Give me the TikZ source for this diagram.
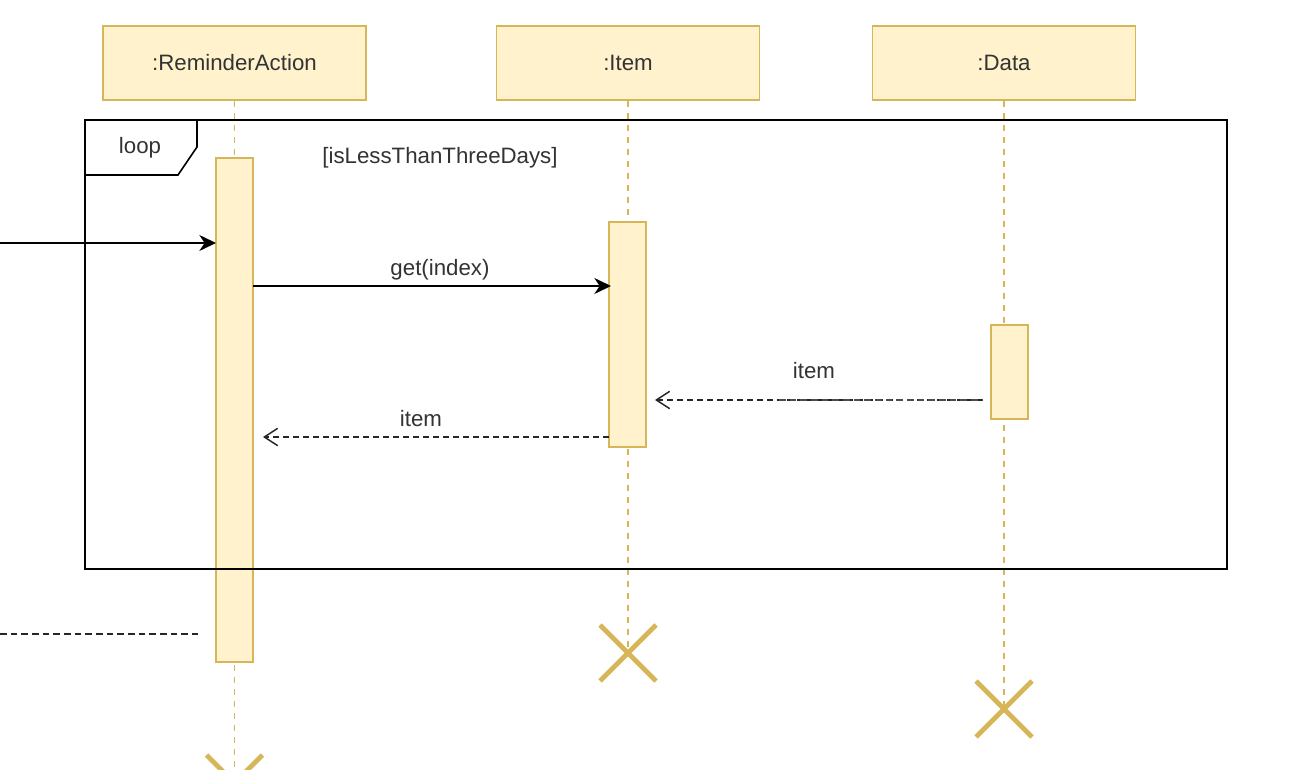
\documentclass[tikz,border=0pt]{standalone}
\usepackage{fontspec}
\setmainfont{Liberation Sans}
\usetikzlibrary{arrows.meta}
\definecolor{uFill}{HTML}{FFF2CC}
\definecolor{uLine}{HTML}{D6B656}
\definecolor{uText}{HTML}{333333}

\begin{document}
\begin{tikzpicture}[x=0.75pt,y=-0.75pt,
  every node/.style={font=\fontsize{16.7pt}{20pt}\selectfont, text=uText},
  head/.style={draw=uLine, fill=uFill, line width=1.1pt,
    minimum width=197pt, minimum height=55.5pt, inner sep=0pt},
  actbar/.style={draw=uLine, fill=uFill, line width=1.1pt,
    minimum width=27.75pt, inner sep=0pt},
  lifeline/.style={draw=uLine, line width=0.9pt, dash pattern=on 5pt off 4pt},
  destroy/.style={draw=uLine, line width=3.6pt},
  call/.style={draw=black, line width=1.3pt,
    -{Stealth[length=12.5pt, width=12pt, inset=4pt]}},
  reply/.style={draw=black!85, line width=1pt, dash pattern=on 4.5pt off 3pt,
    -{Straight Barb[length=10pt, width=13pt, line width=1.1pt]}},
  plaindash/.style={draw=black!85, line width=1pt, dash pattern=on 5pt off 3pt},
  frame/.style={draw=black, line width=1.2pt},
  lbl/.style={inner sep=0pt}
]
\clip (0,0) rectangle (1306,770);
\fill[white] (0,0) rectangle (1306,770);

% lifeline heads
\node[head] (ra) at (234.5,63) {:ReminderAction};
\node[head] (it) at (628,63) {:Item};
\node[head] (da) at (1004,63) {:Data};

% lifeline ends (destruction points)
\coordinate (raEnd) at (234.5,783);
\coordinate (itEnd) at (628,653);
\coordinate (daEnd) at (1004,709);

\draw[lifeline] (ra.south) -- (raEnd);
\draw[lifeline] (it.south) -- (itEnd);
\draw[lifeline] (da.south) -- (daEnd);

% destruction marks
\foreach \p in {raEnd,itEnd,daEnd}{
  \draw[destroy] ([shift={(-28,-28)}]\p) -- ([shift={(28,28)}]\p);
  \draw[destroy] ([shift={(-28,28)}]\p) -- ([shift={(28,-28)}]\p);
}

% activation bars
\node[actbar, minimum height=378pt] (raAct) at (234.5,410) {};
\node[actbar, minimum height=168.75pt] (itAct) at (627.5,334.5) {};
\node[actbar, minimum height=70.5pt] (daAct) at (1009.5,372) {};

% loop fragment
\draw[frame] (85,120) rectangle (1227,569);
\draw[frame, fill=white] (85,120) -- (197,120) -- (197,147) -- (178,175) -- (85,175) -- cycle;
\node[lbl] (loopTag) at (140,148) {loop};
\node[lbl] (guard) at (440,158) {[isLessThanThreeDays]};

% messages
\coordinate (inStart) at (0,243);
\coordinate (inEnd) at (216,243);
\draw[call] (inStart) -- (inEnd);

\coordinate (getS) at (253,286);
\coordinate (getE) at (611,286);
\draw[call] (getS) -- (getE);
\node[lbl] (getLbl) at (440,270) {get(index)};

\coordinate (r1S) at (983,400);
\coordinate (r1E) at (655,400);
\coordinate (r1M) at (777,400);
\draw[reply] (r1S) -- (r1E);
\draw[plaindash, dash phase=4pt, draw=black!70] (r1S) -- (r1M);
\node[lbl] (r1Lbl) at (814,371) {item};

\coordinate (r2S) at (609,437);
\coordinate (r2E) at (263,437);
\draw[reply] (r2S) -- (r2E);
\node[lbl] (r2Lbl) at (421,419) {item};

\coordinate (outS) at (0,634);
\coordinate (outE) at (198,634);
\draw[plaindash] (outS) -- (outE);
\end{tikzpicture}
\end{document}
